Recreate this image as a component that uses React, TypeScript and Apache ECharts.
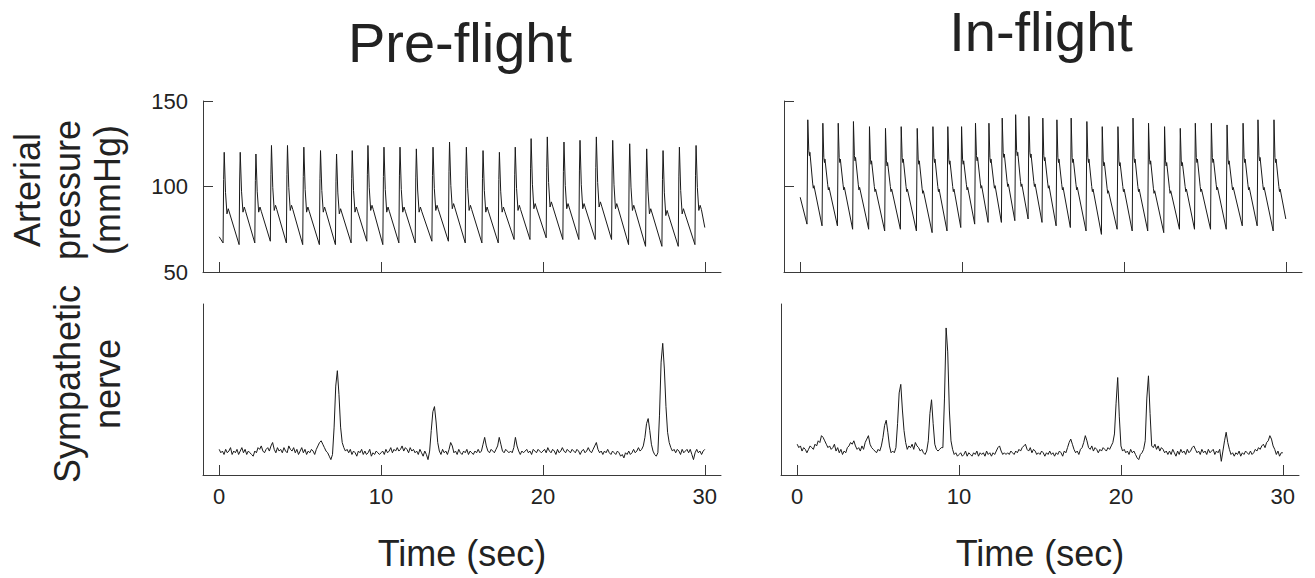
import React, { useEffect, useRef } from "react";
import * as echarts from "echarts";

// ---------- data ----------
const TIME_TICKS = [0, 10, 20, 30];
const PRESSURE_TICKS = [50, 100, 150];

// Pre-flight arterial pressure, one entry per beat
const preBeatTime = [0.31, 1.3, 2.27, 3.23, 4.22, 5.23, 6.26, 7.25, 8.22, 9.19, 10.18, 11.17, 12.18, 13.21, 14.23, 15.27, 16.3, 17.31, 18.29, 19.27, 20.27, 21.3, 22.29, 23.3, 24.31, 25.36, 26.41, 27.42, 28.43, 29.46];
const preSystolic = [120, 120, 119, 124, 124, 123, 121, 119, 121, 124, 123, 123, 122, 123, 126, 123, 121, 120, 123, 128, 129, 126, 127, 129, 127, 125, 122, 121, 123, 124];
const preDiastolic = [67, 66, 67, 68, 67, 66, 66, 66, 67, 68, 66, 67, 67, 68, 68, 67, 67, 67, 69, 69, 70, 69, 69, 69, 69, 66, 65, 65, 65, 66];
const preNotch = [84, 85, 85, 86, 86, 85, 85, 84, 85, 86, 85, 85, 85, 86, 87, 86, 85, 85, 86, 87, 88, 87, 87, 88, 87, 86, 84, 83, 84, 86];
const preStart = [0, 70.6];
const preEnd = [30, 76];

// In-flight arterial pressure, one entry per beat
const inBeatTime = [0.47, 1.4, 2.35, 3.29, 4.28, 5.27, 6.24, 7.23, 8.2, 9.12, 9.97, 10.83, 11.66, 12.48, 13.31, 14.13, 14.99, 15.86, 16.74, 17.71, 18.66, 19.63, 20.56, 21.52, 22.51, 23.48, 24.41, 25.4, 26.37, 27.36, 28.28, 29.27];
const inSystolic = [139, 137, 137, 138, 135, 134, 135, 134, 135, 135, 135, 137, 137, 140, 142, 141, 140, 139, 140, 138, 135, 135, 140, 137, 135, 134, 137, 137, 136, 137, 139, 139];
const inDiastolic = [78, 77, 77, 75, 75, 74, 75, 74, 73, 74, 76, 78, 79, 79, 80, 81, 79, 77, 76, 74, 72, 75, 74, 74, 73, 75, 75, 75, 75, 77, 77, 74];
const inUpperNotch = [121, 117, 117, 118, 116, 115, 117, 116, 117, 116, 116, 118, 117, 120, 121, 120, 118, 117, 117, 117, 115, 115, 117, 116, 115, 115, 117, 117, 116, 117, 118, 117];
const inLowerNotch = [102, 101, 101, 101, 100, 100, 100, 99, 100, 100, 101, 102, 102, 103, 103, 103, 102, 101, 101, 100, 99, 100, 100, 99, 99, 100, 100, 101, 101, 101, 101, 100];
const inStart = [0, 93.7];
const inEnd = [30, 81];

// Sympathetic nerve activity, sampled every 0.1 s from 0 to 30 s
const NERVE_STEP = 0.1;
const preNerve = [
  15, 13, 14, 12, 15, 13, 14, 16, 12, 14,
  13, 15, 12, 14, 16, 13, 15, 12, 14, 13,
  12, 11, 14, 13, 16, 15, 17, 14, 13, 15,
  16, 14, 17, 19, 15, 13, 16, 14, 15, 13,
  16, 14, 13, 17, 15, 14, 16, 13, 15, 12,
  14, 16, 13, 15, 12, 14, 13, 15, 14, 12,
  15, 17, 19, 20, 18, 16, 14, 13, 11, 9,
  12, 28, 52, 61, 47, 28, 19, 16, 14, 15,
  13, 15, 12, 14, 13, 11, 14, 13, 15, 12,
  14, 12, 13, 15, 11, 13, 12, 14, 13, 12,
  13, 14, 12, 15, 13, 14, 16, 13, 15, 14,
  16, 14, 15, 17, 14, 16, 15, 13, 16, 14,
  15, 13, 14, 12, 15, 13, 11, 14, 12, 9,
  14, 26, 37, 40, 31, 19, 14, 12, 15, 13,
  14, 12, 15, 19, 17, 13, 14, 12, 15, 13,
  12, 14, 13, 15, 12, 14, 13, 12, 14, 13,
  15, 13, 14, 18, 22, 17, 14, 13, 15, 14,
  13, 15, 17, 22, 18, 14, 13, 15, 14, 13,
  14, 13, 16, 22, 17, 14, 12, 14, 13, 14,
  15, 13, 14, 12, 15, 14, 13, 15, 14, 13,
  14, 15, 13, 16, 14, 13, 15, 14, 12, 15,
  13, 14, 16, 14, 13, 15, 14, 13, 15, 14,
  13, 15, 14, 12, 14, 15, 13, 14, 16, 14,
  13, 15, 17, 19, 15, 13, 14, 12, 14, 13,
  15, 13, 12, 14, 13, 12, 14, 13, 11, 12,
  10, 13, 12, 14, 12, 13, 15, 13, 14, 16,
  14, 15, 17, 22, 30, 33, 26, 18, 14, 12,
  11, 13, 35, 66, 77, 62, 40, 25, 19, 16,
  14, 15, 13, 15, 14, 12, 15, 13, 14, 15,
  13, 15, 12, 9, 13, 15, 13, 14, 12, 14,
  15,
];
const inNerve = [
  18, 16, 17, 14, 16, 15, 13, 15, 17, 16,
  15, 18, 17, 20, 19, 23, 22, 20, 18, 16,
  17, 15, 16, 18, 14, 16, 13, 15, 12, 14,
  13, 16, 17, 19, 18, 20, 17, 15, 16, 14,
  17, 15, 19, 21, 23, 18, 16, 15, 14, 13,
  15, 14, 17, 22, 29, 32, 25, 17, 13, 14,
  13, 16, 30, 48, 53, 38, 26, 19, 15, 17,
  16, 18, 15, 19, 17, 16, 14, 15, 13, 12,
  14, 20, 36, 44, 30, 18, 15, 14, 15, 16,
  16, 45, 86, 72, 38, 20, 15, 12, 13, 11,
  12, 13, 11, 12, 14, 11, 13, 12, 11, 13,
  12, 14, 11, 13, 12, 13, 11, 14, 12, 13,
  11, 13, 12, 14, 16, 17, 14, 12, 13, 12,
  13, 12, 14, 13, 12, 14, 13, 15, 14, 16,
  17, 18, 15, 14, 16, 13, 15, 14, 12, 13,
  12, 14, 13, 11, 13, 12, 14, 12, 13, 11,
  13, 12, 14, 13, 11, 14, 13, 16, 19, 21,
  18, 15, 13, 14, 12, 15, 16, 19, 23, 20,
  16, 15, 17, 14, 16, 15, 13, 15, 14, 16,
  15, 14, 16, 15, 17, 19, 24, 42, 57, 34,
  17, 14, 15, 13, 14, 12, 15, 13, 14, 12,
  10, 9, 12, 13, 15, 20, 45, 58, 36, 17,
  16, 18, 15, 17, 14, 16, 15, 13, 14, 12,
  14, 12, 15, 13, 11, 14, 12, 15, 13, 14,
  12, 15, 13, 14, 16, 17, 15, 13, 14, 12,
  15, 13, 14, 12, 15, 13, 14, 15, 12, 14,
  13, 15, 8, 14, 20, 25, 19, 15, 12, 13,
  11, 13, 12, 14, 11, 13, 12, 14, 13, 12,
  14, 12, 13, 15, 14, 16, 15, 17, 18, 16,
  19, 20, 23, 21, 17, 15, 12, 14, 11, 13,
  13,
];

// ---------- series builders ----------
function buildPrePressure(): number[][] {
  const pts: number[][] = [preStart];
  preBeatTime.forEach((tp, i) => {
    const sys = preSystolic[i];
    const dia = preDiastolic[i];
    const n = preNotch[i];
    pts.push([tp - 0.07, dia]);
    pts.push([tp - 0.035, dia + 0.7 * (sys - dia)]);
    pts.push([tp, sys]);
    pts.push([tp + 0.08, n + 0.35 * (sys - n)]);
    pts.push([tp + 0.17, n]);
    pts.push([tp + 0.25, n + 3]);
    pts.push([tp + 0.33, n + 0.5]);
  });
  pts.push(preEnd);
  return pts;
}

function buildInPressure(): number[][] {
  const pts: number[][] = [inStart];
  inBeatTime.forEach((tp, i) => {
    const sys = inSystolic[i];
    const dia = inDiastolic[i];
    const up = inUpperNotch[i];
    const lo = inLowerNotch[i];
    pts.push([tp - 0.05, dia]);
    pts.push([tp, sys]);
    pts.push([tp + 0.06, up]);
    pts.push([tp + 0.1, up - 3]);
    pts.push([tp + 0.13, up - 1]);
    pts.push([tp + 0.3, lo]);
    pts.push([tp + 0.34, lo - 3]);
    pts.push([tp + 0.38, lo - 1.5]);
  });
  pts.push(inEnd);
  return pts;
}

function buildNerve(values: number[]): number[][] {
  return values.map((v, i) => [Math.round(i * NERVE_STEP * 10) / 10, v]);
}

// ---------- styling ----------
const FONT = "'Liberation Sans', Arial, Helvetica, sans-serif";
const INK = "#1a1a1a";
const AXIS = "#3a3a3a";
const TEXT = "#222";

function xAxis(gridIndex: number, withLabels: boolean) {
  return {
    type: "value",
    gridIndex,
    min: -1,
    max: 31,
    axisLine: { show: true, onZero: false, lineStyle: { color: AXIS, width: 1 } },
    axisTick: { show: true, inside: true, length: 10, customValues: TIME_TICKS, lineStyle: { color: AXIS, width: 1 } },
    axisLabel: { show: withLabels, customValues: TIME_TICKS, fontSize: 22, color: TEXT, fontFamily: FONT, margin: 10 },
    splitLine: { show: false },
    name: withLabels ? "Time (sec)" : "",
    nameLocation: "middle",
    nameGap: 60,
    nameTextStyle: { fontSize: 36, color: TEXT, fontFamily: FONT },
  };
}

function pressureAxis(gridIndex: number, withLabels: boolean) {
  return {
    type: "value",
    gridIndex,
    min: PRESSURE_TICKS[0],
    max: PRESSURE_TICKS[PRESSURE_TICKS.length - 1],
    interval: 50,
    axisLine: { show: true, onZero: false, lineStyle: { color: AXIS, width: 1 } },
    axisTick: { show: true, inside: true, length: 10, lineStyle: { color: AXIS, width: 1 } },
    axisLabel: { show: withLabels, fontSize: 22, color: TEXT, fontFamily: FONT, margin: 15 },
    splitLine: { show: false },
  };
}

function nerveAxis(gridIndex: number) {
  return {
    type: "value",
    gridIndex,
    min: 0,
    max: 100,
    axisLine: { show: true, onZero: false, lineStyle: { color: AXIS, width: 1 } },
    axisTick: { show: false },
    axisLabel: { show: false },
    splitLine: { show: false },
  };
}

function lineSeries(data: number[][], idx: number) {
  return {
    type: "line",
    xAxisIndex: idx,
    yAxisIndex: idx,
    data,
    showSymbol: false,
    symbol: "none",
    lineStyle: { color: INK, width: 1 },
    itemStyle: { color: INK },
    silent: true,
  };
}

export default function App() {
  const ref = useRef<HTMLDivElement>(null);

  useEffect(() => {
    if (!ref.current) return;
    const chart = echarts.init(ref.current, undefined, { renderer: "svg" });
    const W = 518;
    const H = 171;
    chart.setOption({
      animation: false,
      backgroundColor: "#ffffff",
      grid: [
        { left: 203, top: 101, width: W, height: H, outerBoundsMode: "none" },
        { left: 203, top: 304, width: W, height: H, outerBoundsMode: "none" },
        { left: 784, top: 101, width: W, height: H, outerBoundsMode: "none" },
        { left: 781, top: 304, width: W, height: H, outerBoundsMode: "none" },
      ],
      xAxis: [xAxis(0, false), xAxis(1, true), xAxis(2, false), xAxis(3, true)],
      yAxis: [pressureAxis(0, true), nerveAxis(1), pressureAxis(2, false), nerveAxis(3)],
      series: [
        lineSeries(buildPrePressure(), 0),
        lineSeries(buildNerve(preNerve), 1),
        lineSeries(buildInPressure(), 2),
        lineSeries(buildNerve(inNerve), 3),
      ],
      graphic: [
        {
          type: "text",
          x: 460,
          y: 42,
          style: { text: "Pre-flight", fontSize: 56, fontFamily: FONT, fill: TEXT, align: "center", verticalAlign: "middle" },
        },
        {
          type: "text",
          x: 1041,
          y: 31,
          style: { text: "In-flight", fontSize: 56, fontFamily: FONT, fill: TEXT, align: "center", verticalAlign: "middle" },
        },
        {
          type: "text",
          x: 67,
          y: 190,
          rotation: Math.PI / 2,
          style: { text: "Arterial\npressure\n(mmHg)", fontSize: 36, lineHeight: 40, fontFamily: FONT, fill: TEXT, align: "center", verticalAlign: "middle" },
        },
        {
          type: "text",
          x: 87,
          y: 384,
          rotation: Math.PI / 2,
          style: { text: "Sympathetic\nnerve", fontSize: 36, lineHeight: 40, fontFamily: FONT, fill: TEXT, align: "center", verticalAlign: "middle" },
        },
      ],
    });
    return () => chart.dispose();
  }, []);

  return (
    <div
      ref={ref}
      style={{ position: "absolute", left: 0, top: 0, width: 1315, height: 578 }}
    />
  );
}
